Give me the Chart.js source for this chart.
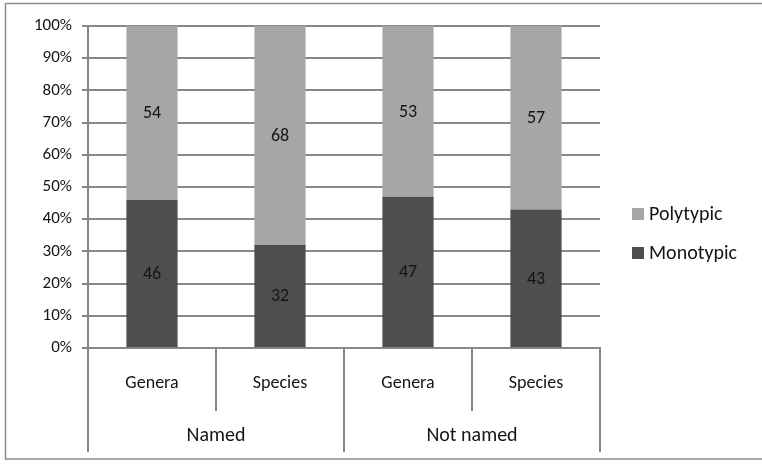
<!DOCTYPE html>
<html>
<head>
<meta charset="utf-8">
<script src="https://cdn.jsdelivr.net/npm/chart.js@4.4.1/dist/chart.umd.min.js"></script>
<style>
  html, body { margin: 0; padding: 0; background: #ffffff; }
  #wrap { position: relative; width: 762px; height: 464px; }
</style>
</head>
<body>
<div id="wrap"><canvas id="chart" width="762" height="464"></canvas></div>
<script>
// Sub-categories along the x axis and the group each belongs to
const categories = ['Genera', 'Species', 'Genera', 'Species'];
const categoryGroup = [0, 0, 1, 1];
const groups = ['Named', 'Not named'];

// Percentages per series (each column sums to 100)
const monotypic = [46, 32, 47, 43];
const polytypic = [54, 68, 53, 57];

// Y axis ticks
const yTicks = [0, 10, 20, 30, 40, 50, 60, 70, 80, 90, 100];

const FONT = 'Carlito, Calibri, Lato, "Open Sans", sans-serif';
const GRID = '#878787';
const DARK = '#4e4e4e';
const LIGHT = '#a6a6a6';
const TEXT = '#141414';

// Frame around the whole chart
const framePlugin = {
  id: 'frame',
  beforeDraw(chart) {
    const ctx = chart.ctx;
    ctx.save();
    ctx.fillStyle = '#ffffff';
    ctx.fillRect(0, 0, chart.width, chart.height);
    ctx.strokeStyle = '#8c8c8c';
    ctx.lineWidth = 1.5;
    ctx.strokeRect(5.5, 3.5, chart.width + 10, chart.height - 5.5 - 3);
    ctx.restore();
  }
};

// Value labels centred in each stacked segment
const valueLabels = {
  id: 'valueLabels',
  afterDatasetsDraw(chart) {
    const ctx = chart.ctx;
    ctx.save();
    ctx.font = '18px ' + FONT;
    ctx.fillStyle = TEXT;
    ctx.textAlign = 'center';
    ctx.textBaseline = 'middle';
    chart.data.datasets.forEach((ds, di) => {
      chart.getDatasetMeta(di).data.forEach((bar, i) => {
        const mid = (bar.y + bar.base) / 2;
        ctx.fillText(String(ds.data[i]), bar.x, mid + 1);
      });
    });
    ctx.restore();
  }
};

// Two-level category axis: dividers between columns and group labels
const groupAxis = {
  id: 'groupAxis',
  afterDraw(chart) {
    const x = chart.scales.x;
    const ctx = chart.ctx;
    const n = categories.length;
    const step = (x.right - x.left) / n;
    const top = x.top;
    const shortEnd = top + 63;
    const longEnd = top + 104;
    ctx.save();
    ctx.strokeStyle = GRID;
    ctx.lineWidth = 2;
    for (let i = 0; i <= n; i++) {
      const px = Math.round(x.left + i * step);
      const isGroupEdge = i === 0 || i === n || categoryGroup[i] !== categoryGroup[i - 1];
      ctx.beginPath();
      ctx.moveTo(px, top);
      ctx.lineTo(px, isGroupEdge ? longEnd : shortEnd);
      ctx.stroke();
    }
    ctx.font = '20px ' + FONT;
    ctx.fillStyle = TEXT;
    ctx.textAlign = 'center';
    ctx.textBaseline = 'middle';
    groups.forEach((g, gi) => {
      const idx = categories.map((c, i) => i).filter(i => categoryGroup[i] === gi);
      const left = x.left + idx[0] * step;
      const right = x.left + (idx[idx.length - 1] + 1) * step;
      ctx.fillText(g, (left + right) / 2, top + 88);
    });
    ctx.restore();
  }
};

// Legend drawn to the right of the plot, top entry = top series
const sideLegend = {
  id: 'sideLegend',
  afterDraw(chart) {
    const ctx = chart.ctx;
    const items = chart.data.datasets.slice().reverse();
    const area = chart.chartArea;
    ctx.save();
    ctx.font = '20px ' + FONT;
    ctx.textBaseline = 'middle';
    ctx.textAlign = 'left';
    const startY = 214;
    items.forEach((ds, k) => {
      const cy = startY + k * 39;
      ctx.fillStyle = ds.backgroundColor;
      ctx.fillRect(area.right + 32, cy - 6, 12, 12);
      ctx.fillStyle = TEXT;
      ctx.fillText(ds.label, area.right + 49, cy + 1);
    });
    ctx.restore();
  }
};

new Chart(document.getElementById('chart'), {
  type: 'bar',
  data: {
    labels: categories,
    datasets: [
      { label: 'Monotypic', data: monotypic, backgroundColor: DARK,
        categoryPercentage: 1, barPercentage: 0.4 },
      { label: 'Polytypic', data: polytypic, backgroundColor: LIGHT,
        categoryPercentage: 1, barPercentage: 0.4 }
    ]
  },
  options: {
    responsive: false,
    animation: false,
    devicePixelRatio: 1,
    layout: { padding: { left: 6, top: 26, right: 162, bottom: 12 } },
    plugins: {
      legend: { display: false },
      tooltip: { enabled: false }
    },
    scales: {
      x: {
        stacked: true,
        grid: { display: false },
        border: { display: true, color: GRID, width: 2 },
        ticks: {
          color: TEXT,
          font: { family: FONT, size: 18 },
          padding: 17,
          maxRotation: 0
        },
        afterFit(scale) { scale.height = 104; }
      },
      y: {
        stacked: true,
        min: 0,
        max: 100,
        afterBuildTicks(scale) { scale.ticks = yTicks.map(v => ({ value: v })); },
        grid: { color: GRID, lineWidth: 2, tickLength: 6 },
        border: { display: true, color: GRID, width: 2 },
        ticks: {
          color: TEXT,
          font: { family: FONT, size: 17 },
          padding: 10,
          callback: v => v + '%'
        },
        afterFit(scale) { scale.width = 82; }
      }
    }
  },
  plugins: [framePlugin, valueLabels, groupAxis, sideLegend]
});
</script>
</body>
</html>
